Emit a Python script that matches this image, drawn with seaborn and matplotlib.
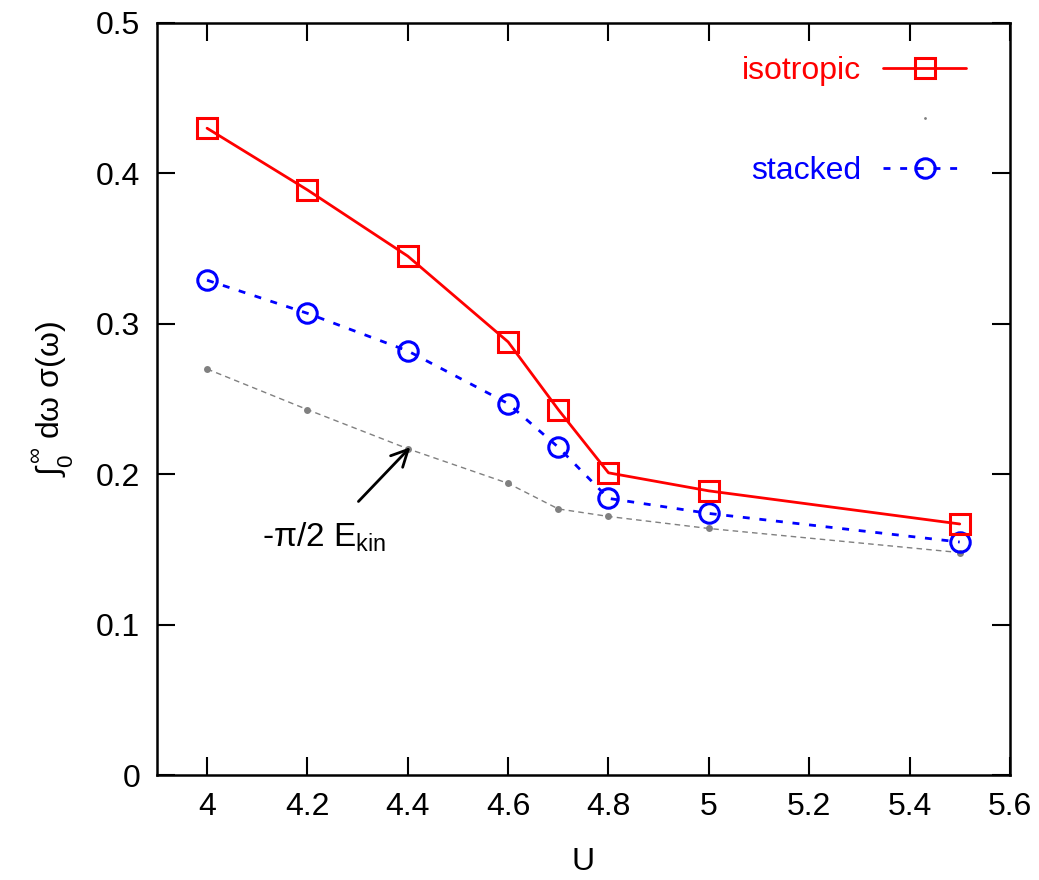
import pandas as pd
import matplotlib.pyplot as plt
import seaborn as sns
from matplotlib.lines import Line2D

# values
U = [4.0, 4.2, 4.4, 4.6, 4.7, 4.8, 5.0, 5.5]
isotropic = [0.430, 0.389, 0.345, 0.288, 0.243, 0.201, 0.189, 0.167]
stacked = [0.329, 0.307, 0.282, 0.247, 0.218, 0.184, 0.174, 0.155]
ekin = [0.270, 0.243, 0.217, 0.194, 0.177, 0.172, 0.164, 0.148]

xticks = [4.0, 4.2, 4.4, 4.6, 4.8, 5.0, 5.2, 5.4, 5.6]
xticklabels = ['4', '4.2', '4.4', '4.6', '4.8', '5', '5.2', '5.4', '5.6']
yticks = [0, 0.1, 0.2, 0.3, 0.4, 0.5]
yticklabels = ['0', '0.1', '0.2', '0.3', '0.4', '0.5']

df = pd.DataFrame({'U': U, 'isotropic': isotropic, 'stacked': stacked, 'ekin': ekin})

sns.set_style('ticks')
plt.rcParams['font.family'] = ['Liberation Sans', 'DejaVu Sans']
plt.rcParams['mathtext.fontset'] = 'custom'
plt.rcParams['mathtext.rm'] = 'Liberation Sans'
plt.rcParams['mathtext.it'] = 'Liberation Sans:italic'
plt.rcParams['text.color'] = 'black'
plt.rcParams['axes.labelcolor'] = 'black'
plt.rcParams['xtick.color'] = 'black'
plt.rcParams['ytick.color'] = 'black'
plt.rcParams['axes.edgecolor'] = 'black'

fig = plt.figure(figsize=(10.39, 8.8), dpi=100)
ax = fig.add_axes([0.151, 0.119, 0.821, 0.855])

# gray -pi/2 E_kin reference
sns.lineplot(data=df, x='U', y='ekin', ax=ax, color='#808080', lw=1.0,
             marker='o', markersize=5, markeredgewidth=0,
             linestyle=(0, (4, 3)))
# stacked
sns.lineplot(data=df, x='U', y='stacked', ax=ax, color='#0000ff', lw=2.0,
             marker='o', markersize=14, markerfacecolor='none',
             markeredgecolor='#0000ff', markeredgewidth=2.2,
             linestyle=(0, (2.5, 3.5)))
# isotropic
sns.lineplot(data=df, x='U', y='isotropic', ax=ax, color='#ff0000', lw=2.0,
             marker='s', markersize=14, markerfacecolor='none',
             markeredgecolor='#ff0000', markeredgewidth=2.2)

ax.set_xlim(3.9, 5.6)
ax.set_ylim(0, 0.5)
ax.set_xticks(xticks)
ax.set_xticklabels(xticklabels)
ax.set_yticks(yticks)
ax.set_yticklabels(yticklabels)
ax.tick_params(direction='in', length=13, width=1.5, labelsize=23,
               top=True, right=True, pad=12)
for s in ax.spines.values():
    s.set_linewidth(1.8)
    s.set_visible(True)

ax.set_xlabel('U', fontsize=23, labelpad=18)
ax.set_ylabel(r'$\int_0^\infty$ dω σ(ω)', fontsize=23, labelpad=14)

ax.annotate(r'-π/2 E$_\mathregular{kin}$', xy=(4.405, 0.218), xytext=(4.233, 0.158),
            fontsize=24, ha='center', va='center',
            arrowprops=dict(arrowstyle='->', lw=2, color='black',
                            mutation_scale=30, shrinkA=16, shrinkB=0))

handles = [
    Line2D([], [], color='#ff0000', lw=2.0, marker='s', markersize=14,
           markerfacecolor='none', markeredgewidth=2.2),
    Line2D([], [], color='#808080', lw=0, marker='o', markersize=1),
    Line2D([], [], color='#0000ff', lw=2.0, linestyle=(0, (2.5, 3.5)), marker='o',
           markersize=14, markerfacecolor='none', markeredgewidth=2.2),
]
leg = ax.legend(handles, ['isotropic', '', 'stacked'], loc='upper right',
                bbox_to_anchor=(0.949, 0.956), frameon=False, markerfirst=False,
                fontsize=23, handlelength=2.6, handletextpad=0.7,
                labelspacing=0.63, borderpad=0, borderaxespad=0)
leg.get_texts()[0].set_color('#ff0000')
leg.get_texts()[2].set_color('#0000ff')

fig.savefig('out.png', dpi=100)
